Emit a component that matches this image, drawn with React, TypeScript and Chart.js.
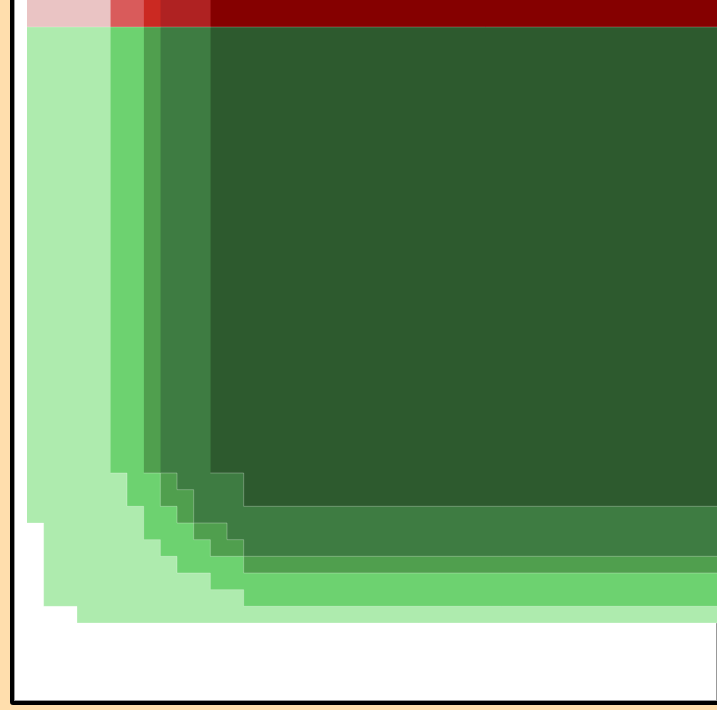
import React, { useEffect, useRef } from 'react';
import { Chart, registerables } from 'chart.js';

Chart.register(...registerables);

// Scale ranges (grid units)
const X_MIN = -0.78;
const X_MAX = 44.22;
const Y_MIN = -4.68;
const Y_MAX = 40.32;
const SPLIT = 35.76; // boundary between the red band and the green layers
const X_END = 44;
const EDGE_X = 41.34;

// Layer staircases (step values hold until the next x)
const layer1X = [0, 1, 3, 44];
const layer1Y = [6, 1, 0, 0];
const layer2X = [5, 6, 7, 8, 9, 11, 13, 44];
const layer2Y = [9, 7, 5, 4, 3, 2, 1, 1];
const layer3X = [7, 8, 9, 10, 11, 13, 44];
const layer3Y = [9, 7, 6, 5, 4, 3, 3];
const layer4X = [8, 9, 10, 12, 13, 44];
const layer4Y = [9, 8, 6, 5, 4, 4];
const layer5X = [11, 13, 44];
const layer5Y = [9, 7, 7];

const greenColors = ['#aeebae', '#6dd270', '#509f4e', '#3e7c42', '#2d5a2e'];
const redColors = ['#eac4c4', '#d95b5b', '#cb2922', '#af2222', '#850000'];

const layersX = [layer1X, layer2X, layer3X, layer4X, layer5X];
const layersY = [layer1Y, layer2Y, layer3Y, layer4Y, layer5Y];

const framePlugin = {
  id: 'frameLines',
  beforeDatasetsDraw(chart: any) {
    const { ctx, chartArea } = chart;
    const xs = chart.scales.x;
    const rx = Math.round(xs.getPixelForValue(EDGE_X)) + 0.5;
    ctx.save();
    ctx.strokeStyle = '#999999';
    ctx.lineWidth = 1;
    ctx.beginPath();
    ctx.moveTo(chartArea.left + 0.5, chartArea.top);
    ctx.lineTo(chartArea.left + 0.5, chartArea.bottom);
    ctx.moveTo(chartArea.left, chartArea.bottom - 0.5);
    ctx.lineTo(chartArea.right, chartArea.bottom - 0.5);
    ctx.moveTo(rx, chartArea.top);
    ctx.lineTo(rx, chartArea.bottom);
    ctx.stroke();
    ctx.restore();
  },
};

export default function App() {
  const ref = useRef<HTMLCanvasElement | null>(null);

  useEffect(() => {
    document.documentElement.style.overflow = 'hidden';
    document.body.style.margin = '0';
    document.body.style.overflow = 'hidden';
    document.body.style.background = '#ffdead';

    const datasets: any[] = [];
    layersX.forEach((xs, i) => {
      const ys = layersY[i];
      datasets.push({
        label: 'layer ' + (i + 1),
        data: xs.map((x, j) => ({ x, y: ys[j] })),
        stepped: true,
        fill: { value: SPLIT },
        backgroundColor: greenColors[i],
        borderColor: 'rgba(255,255,255,0.28)',
        borderWidth: 1,
        pointRadius: 0,
        order: 10 - 2 * i,
      });
      datasets.push({
        label: 'layer ' + (i + 1) + ' top',
        data: [
          { x: xs[0], y: SPLIT },
          { x: X_END, y: SPLIT },
        ],
        fill: 'end',
        backgroundColor: redColors[i],
        borderColor: 'rgba(255,255,255,0.22)',
        borderWidth: 1,
        pointRadius: 0,
        order: 9 - 2 * i,
      });
    });

    const chart = new Chart(ref.current as HTMLCanvasElement, {
      type: 'line',
      data: { datasets },
      options: {
        responsive: false,
        animation: false,
        layout: { padding: 0 },
        plugins: { legend: { display: false }, tooltip: { enabled: false } },
        scales: {
          x: { type: 'linear', min: X_MIN, max: X_MAX, display: false },
          y: { type: 'linear', min: Y_MIN, max: Y_MAX, display: false },
        },
      },
      plugins: [framePlugin],
    } as any);
    return () => chart.destroy();
  }, []);

  return (
    <div
      style={{
        position: 'fixed',
        left: 10,
        top: -53,
        border: '4px solid #000',
        borderRadius: 3,
        background: '#fff',
        width: 750,
        height: 750,
      }}
    >
      <canvas ref={ref} width={750} height={750} style={{ display: 'block', width: 750, height: 750 }} />
    </div>
  );
}
